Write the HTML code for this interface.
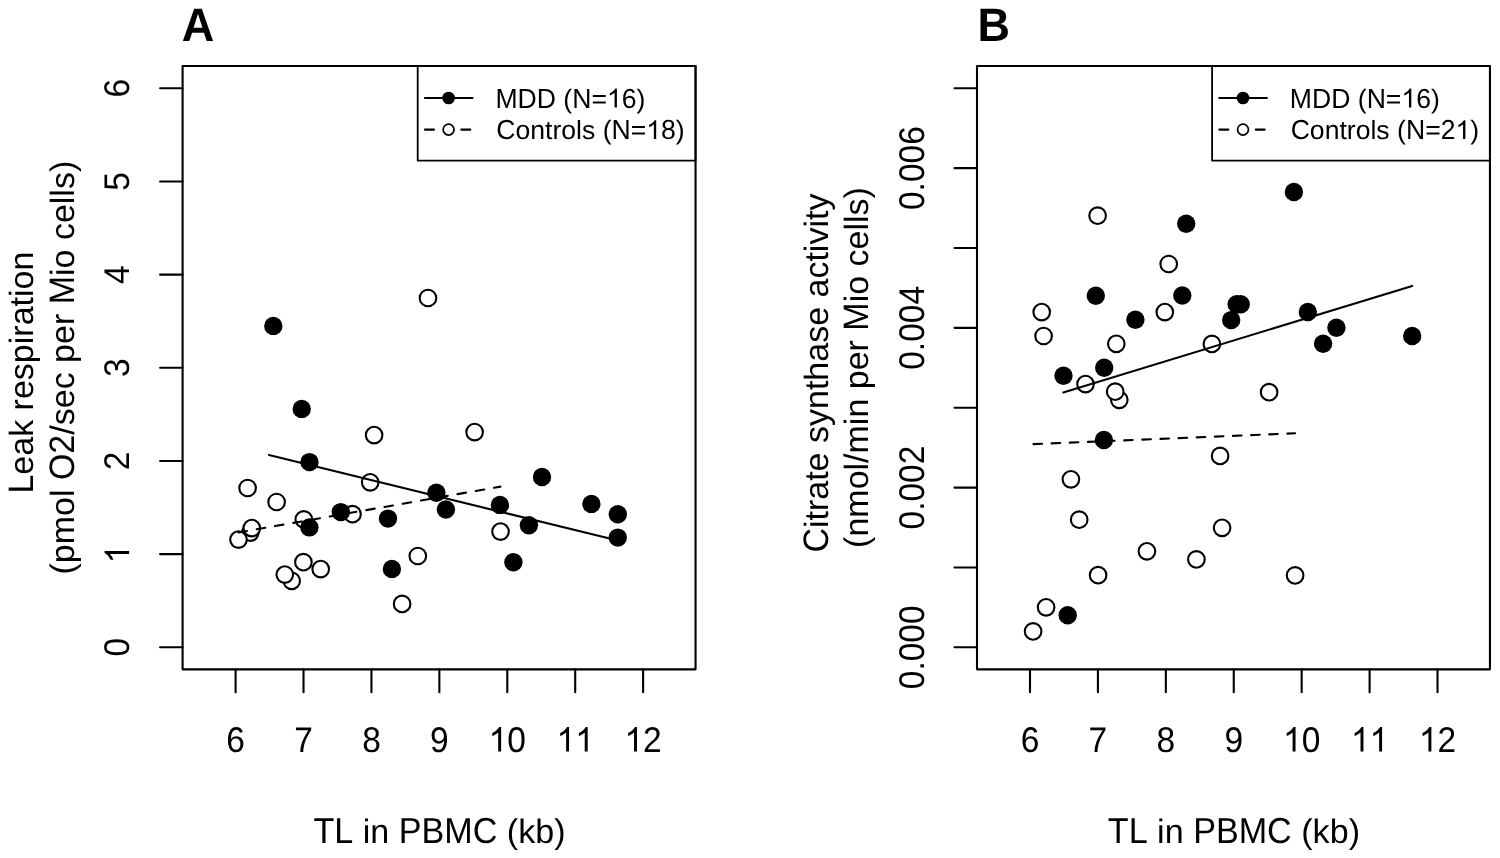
<!DOCTYPE html>
<html><head><meta charset="utf-8"><style>
html,body{margin:0;padding:0;background:#fff;}
svg{display:block;will-change:transform;}
text{font-family:"Liberation Sans",sans-serif;fill:#000;stroke:none;text-rendering:geometricPrecision;font-kerning:none;}
</style></head><body>
<svg width="1500" height="858" viewBox="0 0 1500 858">
<defs><path id="one" d="M763 0L583 0L583 1102Q518 1043 412 983Q306 924 223 894L223 1061Q372 1128 484 1224Q596 1320 643 1409L763 1409Z" fill="#000" stroke="none"/></defs>
<rect width="1500" height="858" fill="#fff"/>
<g stroke="#000" stroke-width="2.1" stroke-linecap="round" stroke-linejoin="round" fill="none">
<rect x="182.6" y="66.05" width="512.9499999999999" height="603.3000000000001" fill="none" stroke="#000" stroke-width="2.1"/>
<line x1="235.60" y1="669.35" x2="235.60" y2="692.2"/>
<text transform="translate(235.60,751.60) scale(0.985,1.049)" x="-9.455" font-size="34.0">6</text>
<line x1="303.52" y1="669.35" x2="303.52" y2="692.2"/>
<text transform="translate(303.52,751.60) scale(0.985,1.049)" x="-9.455" font-size="34.0">7</text>
<line x1="371.44" y1="669.35" x2="371.44" y2="692.2"/>
<text transform="translate(371.44,751.60) scale(0.985,1.049)" x="-9.455" font-size="34.0">8</text>
<line x1="439.36" y1="669.35" x2="439.36" y2="692.2"/>
<text transform="translate(439.36,751.60) scale(0.985,1.049)" x="-9.455" font-size="34.0">9</text>
<line x1="507.28" y1="669.35" x2="507.28" y2="692.2"/>
<use href="#one" transform="translate(507.28,751.60) scale(0.985,1.049) translate(-18.909,0) scale(0.016602,-0.016602)"/>
<text transform="translate(507.28,751.60) scale(0.985,1.049)" x="-18.909" font-size="34.0"> 0</text>
<line x1="575.20" y1="669.35" x2="575.20" y2="692.2"/>
<use href="#one" transform="translate(575.20,751.60) scale(0.985,1.049) translate(-18.909,0) scale(0.016602,-0.016602)"/>
<use href="#one" transform="translate(575.20,751.60) scale(0.985,1.049) translate(0.000,0) scale(0.016602,-0.016602)"/>
<text transform="translate(575.20,751.60) scale(0.985,1.049)" x="-18.909" font-size="34.0">  </text>
<line x1="643.12" y1="669.35" x2="643.12" y2="692.2"/>
<use href="#one" transform="translate(643.12,751.60) scale(0.985,1.049) translate(-18.909,0) scale(0.016602,-0.016602)"/>
<text transform="translate(643.12,751.60) scale(0.985,1.049)" x="-18.909" font-size="34.0"> 2</text>
<line x1="160.1" y1="647.30" x2="182.6" y2="647.30"/>
<text transform="translate(129.10,647.30) rotate(-90) scale(0.985,1.049)" x="-9.455" font-size="34.0">0</text>
<line x1="160.1" y1="554.13" x2="182.6" y2="554.13"/>
<use href="#one" transform="translate(129.10,554.13) rotate(-90) scale(0.985,1.049) translate(-9.455,0) scale(0.016602,-0.016602)"/>
<text transform="translate(129.10,554.13) rotate(-90) scale(0.985,1.049)" x="-9.455" font-size="34.0"> </text>
<line x1="160.1" y1="460.97" x2="182.6" y2="460.97"/>
<text transform="translate(129.10,460.97) rotate(-90) scale(0.985,1.049)" x="-9.455" font-size="34.0">2</text>
<line x1="160.1" y1="367.80" x2="182.6" y2="367.80"/>
<text transform="translate(129.10,367.80) rotate(-90) scale(0.985,1.049)" x="-9.455" font-size="34.0">3</text>
<line x1="160.1" y1="274.63" x2="182.6" y2="274.63"/>
<text transform="translate(129.10,274.63) rotate(-90) scale(0.985,1.049)" x="-9.455" font-size="34.0">4</text>
<line x1="160.1" y1="181.46" x2="182.6" y2="181.46"/>
<text transform="translate(129.10,181.46) rotate(-90) scale(0.985,1.049)" x="-9.455" font-size="34.0">5</text>
<line x1="160.1" y1="88.30" x2="182.6" y2="88.30"/>
<text transform="translate(129.10,88.30) rotate(-90) scale(0.985,1.049)" x="-9.455" font-size="34.0">6</text>
<text transform="translate(439.50,843.10) scale(1.0,1.06)" x="-126.113" font-size="34.13">TL</text>
<text transform="translate(439.50,843.10) scale(1.0,0.99)" x="-76.801" font-size="34.13">in</text>
<text transform="translate(439.50,843.10) scale(1.0,1.06)" x="-40.754" font-size="34.13">PBMC</text>
<text transform="translate(439.50,843.10) scale(1.0,1.0)" x="67.335" font-size="34.13">(</text>
<text transform="translate(439.50,843.10) scale(1.0,0.99)" x="78.701" font-size="34.13">kb</text>
<text transform="translate(439.50,843.10) scale(1.0,1.0)" x="114.747" font-size="34.13">)</text>
<text transform="translate(33.20,372.60) rotate(-90) scale(1.0,1.04)" x="-120.959" font-size="34.0">L</text>
<text transform="translate(33.20,372.60) rotate(-90) scale(1.0,0.99)" x="-102.050" font-size="34.0">eak</text>
<text transform="translate(33.20,372.60) rotate(-90) scale(1.0,0.99)" x="-37.785" font-size="34.0">respiration</text>
<text transform="translate(73.90,367.65) rotate(-90) scale(1.0,1.0)" x="-206.889" font-size="34.0">(</text>
<text transform="translate(73.90,367.65) rotate(-90) scale(1.0,0.99)" x="-195.566" font-size="34.0">pmol</text>
<text transform="translate(73.90,367.65) rotate(-90) scale(1.0,1.04)" x="-112.426" font-size="34.0">O2</text>
<text transform="translate(73.90,367.65) rotate(-90) scale(1.0,1.0)" x="-67.070" font-size="34.0">/</text>
<text transform="translate(73.90,367.65) rotate(-90) scale(1.0,0.99)" x="-57.624" font-size="34.0">sec</text>
<text transform="translate(73.90,367.65) rotate(-90) scale(1.0,0.99)" x="4.731" font-size="34.0">per</text>
<text transform="translate(73.90,367.65) rotate(-90) scale(1.0,1.04)" x="63.318" font-size="34.0">M</text>
<text transform="translate(73.90,367.65) rotate(-90) scale(1.0,0.99)" x="91.641" font-size="34.0">io</text>
<text transform="translate(73.90,367.65) rotate(-90) scale(1.0,0.99)" x="127.550" font-size="34.0">cells</text>
<text transform="translate(73.90,367.65) rotate(-90) scale(1.0,1.0)" x="195.566" font-size="34.0">)</text>
<text transform="translate(181.70,41.00) scale(1.0,1.045)" font-size="45.0" font-weight="bold">A</text>
<rect x="417.7" y="66.05" width="277.84999999999997" height="94.55" fill="none" stroke="#000" stroke-width="1.8"/>
<line x1="424.9" y1="98" x2="472.5" y2="98"/>
<circle cx="448.6" cy="98" r="6.35" fill="#000" stroke="none"/>
<line x1="424.9" y1="129.6" x2="434.0" y2="129.6"/>
<line x1="461.3" y1="129.6" x2="470.3" y2="129.6"/>
<circle cx="448.6" cy="129.6" r="5.45" fill="#fff" stroke-width="1.75"/>
<use href="#one" transform="translate(495.42,107.50) scale(1.0,1.035) translate(111.569,0) scale(0.012988,-0.012988)"/>
<text transform="translate(495.42,107.50) scale(1.0,1.035)" x="0.000" font-size="26.6">MDD</text>
<text transform="translate(495.42,107.50) scale(1.0,1.0)" x="67.968" font-size="26.6">(</text>
<text transform="translate(495.42,107.50) scale(1.0,1.035)" x="76.826" font-size="26.6">N</text>
<text transform="translate(495.42,107.50) scale(1.0,1.0)" x="96.035" font-size="26.6">=</text>
<text transform="translate(495.42,107.50) scale(1.0,1.035)" x="111.569" font-size="26.6"> 6</text>
<text transform="translate(495.42,107.50) scale(1.0,1.0)" x="141.157" font-size="26.6">)</text>
<use href="#one" transform="translate(496.24,139.10) scale(1.0,1.035) translate(150.041,0) scale(0.012988,-0.012988)"/>
<text transform="translate(496.24,139.10) scale(1.0,1.035)" x="0.000" font-size="26.6">C</text>
<text transform="translate(496.24,139.10) scale(1.0,0.99)" x="19.210" font-size="26.6">ontrols</text>
<text transform="translate(496.24,139.10) scale(1.0,1.0)" x="106.439" font-size="26.6">(</text>
<text transform="translate(496.24,139.10) scale(1.0,1.035)" x="115.297" font-size="26.6">N</text>
<text transform="translate(496.24,139.10) scale(1.0,1.0)" x="134.507" font-size="26.6">=</text>
<text transform="translate(496.24,139.10) scale(1.0,1.035)" x="150.041" font-size="26.6"> 8</text>
<text transform="translate(496.24,139.10) scale(1.0,1.0)" x="179.628" font-size="26.6">)</text>
<circle cx="250.3" cy="532.6" r="8.3" fill="#fff" stroke-width="2.1"/>
<circle cx="247.6" cy="488.0" r="8.3" fill="#fff" stroke-width="2.1"/>
<circle cx="276.6" cy="502.0" r="8.3" fill="#fff" stroke-width="2.1"/>
<circle cx="370.2" cy="482.3" r="8.3" fill="#fff" stroke-width="2.1"/>
<circle cx="251.8" cy="528.1" r="8.3" fill="#fff" stroke-width="2.1"/>
<circle cx="238.5" cy="539.6" r="8.3" fill="#fff" stroke-width="2.1"/>
<circle cx="303.8" cy="519.4" r="8.3" fill="#fff" stroke-width="2.1"/>
<circle cx="352.5" cy="514.2" r="8.3" fill="#fff" stroke-width="2.1"/>
<circle cx="303.4" cy="562.2" r="8.3" fill="#fff" stroke-width="2.1"/>
<circle cx="320.7" cy="569.1" r="8.3" fill="#fff" stroke-width="2.1"/>
<circle cx="291.7" cy="580.8" r="8.3" fill="#fff" stroke-width="2.1"/>
<circle cx="284.8" cy="574.6" r="8.3" fill="#fff" stroke-width="2.1"/>
<circle cx="374.1" cy="435.1" r="8.3" fill="#fff" stroke-width="2.1"/>
<circle cx="474.6" cy="432.1" r="8.3" fill="#fff" stroke-width="2.1"/>
<circle cx="500.5" cy="531.6" r="8.3" fill="#fff" stroke-width="2.1"/>
<circle cx="417.8" cy="556.0" r="8.3" fill="#fff" stroke-width="2.1"/>
<circle cx="402.1" cy="603.9" r="8.3" fill="#fff" stroke-width="2.1"/>
<circle cx="428.0" cy="298.0" r="8.3" fill="#fff" stroke-width="2.1"/>
<circle cx="273.3" cy="325.9" r="9.2" fill="#000" stroke="none"/>
<circle cx="301.7" cy="408.9" r="9.2" fill="#000" stroke="none"/>
<circle cx="309.5" cy="462.1" r="9.2" fill="#000" stroke="none"/>
<circle cx="309.4" cy="527.4" r="9.2" fill="#000" stroke="none"/>
<circle cx="340.8" cy="512.1" r="9.2" fill="#000" stroke="none"/>
<circle cx="388.0" cy="518.6" r="9.2" fill="#000" stroke="none"/>
<circle cx="391.9" cy="568.9" r="9.2" fill="#000" stroke="none"/>
<circle cx="436.4" cy="492.8" r="9.2" fill="#000" stroke="none"/>
<circle cx="445.9" cy="509.5" r="9.2" fill="#000" stroke="none"/>
<circle cx="499.9" cy="504.9" r="9.2" fill="#000" stroke="none"/>
<circle cx="528.9" cy="525.3" r="9.2" fill="#000" stroke="none"/>
<circle cx="513.4" cy="562.3" r="9.2" fill="#000" stroke="none"/>
<circle cx="542.0" cy="477.0" r="9.2" fill="#000" stroke="none"/>
<circle cx="591.4" cy="503.9" r="9.2" fill="#000" stroke="none"/>
<circle cx="617.8" cy="514.2" r="9.2" fill="#000" stroke="none"/>
<circle cx="617.8" cy="537.6" r="9.2" fill="#000" stroke="none"/>
<line x1="269.0" y1="454.9" x2="617.8" y2="540.6"/>
<line x1="238.5" y1="532.48" x2="500.5" y2="486.62" stroke-dasharray="8.6 9.93"/>
<rect x="977.0" y="66.05" width="512.9499999999999" height="603.3000000000001" fill="none" stroke="#000" stroke-width="2.1"/>
<line x1="1030.00" y1="669.35" x2="1030.00" y2="692.2"/>
<text transform="translate(1030.00,751.60) scale(0.985,1.049)" x="-9.455" font-size="34.0">6</text>
<line x1="1097.92" y1="669.35" x2="1097.92" y2="692.2"/>
<text transform="translate(1097.92,751.60) scale(0.985,1.049)" x="-9.455" font-size="34.0">7</text>
<line x1="1165.84" y1="669.35" x2="1165.84" y2="692.2"/>
<text transform="translate(1165.84,751.60) scale(0.985,1.049)" x="-9.455" font-size="34.0">8</text>
<line x1="1233.76" y1="669.35" x2="1233.76" y2="692.2"/>
<text transform="translate(1233.76,751.60) scale(0.985,1.049)" x="-9.455" font-size="34.0">9</text>
<line x1="1301.68" y1="669.35" x2="1301.68" y2="692.2"/>
<use href="#one" transform="translate(1301.68,751.60) scale(0.985,1.049) translate(-18.909,0) scale(0.016602,-0.016602)"/>
<text transform="translate(1301.68,751.60) scale(0.985,1.049)" x="-18.909" font-size="34.0"> 0</text>
<line x1="1369.60" y1="669.35" x2="1369.60" y2="692.2"/>
<use href="#one" transform="translate(1369.60,751.60) scale(0.985,1.049) translate(-18.909,0) scale(0.016602,-0.016602)"/>
<use href="#one" transform="translate(1369.60,751.60) scale(0.985,1.049) translate(0.000,0) scale(0.016602,-0.016602)"/>
<text transform="translate(1369.60,751.60) scale(0.985,1.049)" x="-18.909" font-size="34.0">  </text>
<line x1="1437.52" y1="669.35" x2="1437.52" y2="692.2"/>
<use href="#one" transform="translate(1437.52,751.60) scale(0.985,1.049) translate(-18.909,0) scale(0.016602,-0.016602)"/>
<text transform="translate(1437.52,751.60) scale(0.985,1.049)" x="-18.909" font-size="34.0"> 2</text>
<line x1="954.5" y1="647.30" x2="977.0" y2="647.30"/>
<text transform="translate(923.50,647.30) rotate(-90) scale(0.985,1.049)" x="-42.542" font-size="34.0">0</text>
<text transform="translate(923.50,647.30) rotate(-90) scale(0.985,1.0)" x="-23.632" font-size="34.0">.</text>
<text transform="translate(923.50,647.30) rotate(-90) scale(0.985,1.049)" x="-14.186" font-size="34.0">000</text>
<line x1="954.5" y1="567.44" x2="977.0" y2="567.44"/>
<line x1="954.5" y1="487.59" x2="977.0" y2="487.59"/>
<text transform="translate(923.50,487.59) rotate(-90) scale(0.985,1.049)" x="-42.542" font-size="34.0">0</text>
<text transform="translate(923.50,487.59) rotate(-90) scale(0.985,1.0)" x="-23.632" font-size="34.0">.</text>
<text transform="translate(923.50,487.59) rotate(-90) scale(0.985,1.049)" x="-14.186" font-size="34.0">002</text>
<line x1="954.5" y1="407.73" x2="977.0" y2="407.73"/>
<line x1="954.5" y1="327.87" x2="977.0" y2="327.87"/>
<text transform="translate(923.50,327.87) rotate(-90) scale(0.985,1.049)" x="-42.542" font-size="34.0">0</text>
<text transform="translate(923.50,327.87) rotate(-90) scale(0.985,1.0)" x="-23.632" font-size="34.0">.</text>
<text transform="translate(923.50,327.87) rotate(-90) scale(0.985,1.049)" x="-14.186" font-size="34.0">004</text>
<line x1="954.5" y1="248.01" x2="977.0" y2="248.01"/>
<line x1="954.5" y1="168.16" x2="977.0" y2="168.16"/>
<text transform="translate(923.50,168.16) rotate(-90) scale(0.985,1.049)" x="-42.542" font-size="34.0">0</text>
<text transform="translate(923.50,168.16) rotate(-90) scale(0.985,1.0)" x="-23.632" font-size="34.0">.</text>
<text transform="translate(923.50,168.16) rotate(-90) scale(0.985,1.049)" x="-14.186" font-size="34.0">006</text>
<line x1="954.5" y1="88.30" x2="977.0" y2="88.30"/>
<text transform="translate(1233.90,843.10) scale(1.0,1.06)" x="-126.113" font-size="34.13">TL</text>
<text transform="translate(1233.90,843.10) scale(1.0,0.99)" x="-76.801" font-size="34.13">in</text>
<text transform="translate(1233.90,843.10) scale(1.0,1.06)" x="-40.754" font-size="34.13">PBMC</text>
<text transform="translate(1233.90,843.10) scale(1.0,1.0)" x="67.335" font-size="34.13">(</text>
<text transform="translate(1233.90,843.10) scale(1.0,0.99)" x="78.701" font-size="34.13">kb</text>
<text transform="translate(1233.90,843.10) scale(1.0,1.0)" x="114.747" font-size="34.13">)</text>
<text transform="translate(827.60,373.10) rotate(-90) scale(1.0,1.04)" x="-179.513" font-size="34.0">C</text>
<text transform="translate(827.60,373.10) rotate(-90) scale(1.0,0.99)" x="-154.959" font-size="34.0">itrate</text>
<text transform="translate(827.60,373.10) rotate(-90) scale(1.0,0.99)" x="-69.926" font-size="34.0">synthase</text>
<text transform="translate(827.60,373.10) rotate(-90) scale(1.0,0.99)" x="75.604" font-size="34.0">activity</text>
<text transform="translate(868.30,367.50) rotate(-90) scale(1.0,1.0)" x="-180.426" font-size="34.0">(</text>
<text transform="translate(868.30,367.50) rotate(-90) scale(1.0,0.99)" x="-169.104" font-size="34.0">nmol</text>
<text transform="translate(868.30,367.50) rotate(-90) scale(1.0,1.0)" x="-95.409" font-size="34.0">/</text>
<text transform="translate(868.30,367.50) rotate(-90) scale(1.0,0.99)" x="-85.963" font-size="34.0">min</text>
<text transform="translate(868.30,367.50) rotate(-90) scale(1.0,0.99)" x="-21.731" font-size="34.0">per</text>
<text transform="translate(868.30,367.50) rotate(-90) scale(1.0,1.04)" x="36.855" font-size="34.0">M</text>
<text transform="translate(868.30,367.50) rotate(-90) scale(1.0,0.99)" x="65.178" font-size="34.0">io</text>
<text transform="translate(868.30,367.50) rotate(-90) scale(1.0,0.99)" x="101.087" font-size="34.0">cells</text>
<text transform="translate(868.30,367.50) rotate(-90) scale(1.0,1.0)" x="169.104" font-size="34.0">)</text>
<text transform="translate(977.40,41.00) scale(1.0,1.045)" font-size="45.0" font-weight="bold">B</text>
<rect x="1212.1" y="66.05" width="277.84999999999997" height="94.55" fill="none" stroke="#000" stroke-width="1.8"/>
<line x1="1219.3" y1="98" x2="1266.9" y2="98"/>
<circle cx="1243.0" cy="98" r="6.35" fill="#000" stroke="none"/>
<line x1="1219.3" y1="129.6" x2="1228.4" y2="129.6"/>
<line x1="1255.7" y1="129.6" x2="1264.7" y2="129.6"/>
<circle cx="1243.0" cy="129.6" r="5.45" fill="#fff" stroke-width="1.75"/>
<use href="#one" transform="translate(1289.82,107.50) scale(1.0,1.035) translate(111.569,0) scale(0.012988,-0.012988)"/>
<text transform="translate(1289.82,107.50) scale(1.0,1.035)" x="0.000" font-size="26.6">MDD</text>
<text transform="translate(1289.82,107.50) scale(1.0,1.0)" x="67.968" font-size="26.6">(</text>
<text transform="translate(1289.82,107.50) scale(1.0,1.035)" x="76.826" font-size="26.6">N</text>
<text transform="translate(1289.82,107.50) scale(1.0,1.0)" x="96.035" font-size="26.6">=</text>
<text transform="translate(1289.82,107.50) scale(1.0,1.035)" x="111.569" font-size="26.6"> 6</text>
<text transform="translate(1289.82,107.50) scale(1.0,1.0)" x="141.157" font-size="26.6">)</text>
<use href="#one" transform="translate(1290.64,139.10) scale(1.0,1.035) translate(164.834,0) scale(0.012988,-0.012988)"/>
<text transform="translate(1290.64,139.10) scale(1.0,1.035)" x="0.000" font-size="26.6">C</text>
<text transform="translate(1290.64,139.10) scale(1.0,0.99)" x="19.210" font-size="26.6">ontrols</text>
<text transform="translate(1290.64,139.10) scale(1.0,1.0)" x="106.439" font-size="26.6">(</text>
<text transform="translate(1290.64,139.10) scale(1.0,1.035)" x="115.297" font-size="26.6">N</text>
<text transform="translate(1290.64,139.10) scale(1.0,1.0)" x="134.507" font-size="26.6">=</text>
<text transform="translate(1290.64,139.10) scale(1.0,1.035)" x="150.041" font-size="26.6">2 </text>
<text transform="translate(1290.64,139.10) scale(1.0,1.0)" x="179.628" font-size="26.6">)</text>
<circle cx="1097.6" cy="215.7" r="8.3" fill="#fff" stroke-width="2.1"/>
<circle cx="1168.7" cy="264.0" r="8.3" fill="#fff" stroke-width="2.1"/>
<circle cx="1041.7" cy="312.1" r="8.3" fill="#fff" stroke-width="2.1"/>
<circle cx="1043.6" cy="336.0" r="8.3" fill="#fff" stroke-width="2.1"/>
<circle cx="1164.8" cy="312.1" r="8.3" fill="#fff" stroke-width="2.1"/>
<circle cx="1116.3" cy="343.8" r="8.3" fill="#fff" stroke-width="2.1"/>
<circle cx="1085.5" cy="384.1" r="8.3" fill="#fff" stroke-width="2.1"/>
<circle cx="1119.3" cy="399.8" r="8.3" fill="#fff" stroke-width="2.1"/>
<circle cx="1115.2" cy="391.7" r="8.3" fill="#fff" stroke-width="2.1"/>
<circle cx="1211.9" cy="343.9" r="8.3" fill="#fff" stroke-width="2.1"/>
<circle cx="1269.1" cy="392.2" r="8.3" fill="#fff" stroke-width="2.1"/>
<circle cx="1220.1" cy="455.9" r="8.3" fill="#fff" stroke-width="2.1"/>
<circle cx="1070.9" cy="479.3" r="8.3" fill="#fff" stroke-width="2.1"/>
<circle cx="1079.2" cy="519.7" r="8.3" fill="#fff" stroke-width="2.1"/>
<circle cx="1146.9" cy="551.3" r="8.3" fill="#fff" stroke-width="2.1"/>
<circle cx="1098.1" cy="575.2" r="8.3" fill="#fff" stroke-width="2.1"/>
<circle cx="1222.1" cy="527.8" r="8.3" fill="#fff" stroke-width="2.1"/>
<circle cx="1196.4" cy="559.4" r="8.3" fill="#fff" stroke-width="2.1"/>
<circle cx="1295.1" cy="575.4" r="8.3" fill="#fff" stroke-width="2.1"/>
<circle cx="1046.1" cy="607.3" r="8.3" fill="#fff" stroke-width="2.1"/>
<circle cx="1033.1" cy="631.4" r="8.3" fill="#fff" stroke-width="2.1"/>
<circle cx="1095.8" cy="295.7" r="9.2" fill="#000" stroke="none"/>
<circle cx="1135.4" cy="319.8" r="9.2" fill="#000" stroke="none"/>
<circle cx="1186.2" cy="223.8" r="9.2" fill="#000" stroke="none"/>
<circle cx="1293.9" cy="192.0" r="9.2" fill="#000" stroke="none"/>
<circle cx="1182.3" cy="295.5" r="9.2" fill="#000" stroke="none"/>
<circle cx="1236.7" cy="304.2" r="9.2" fill="#000" stroke="none"/>
<circle cx="1240.7" cy="304.2" r="9.2" fill="#000" stroke="none"/>
<circle cx="1231.2" cy="320.1" r="9.2" fill="#000" stroke="none"/>
<circle cx="1063.5" cy="375.7" r="9.2" fill="#000" stroke="none"/>
<circle cx="1104.2" cy="367.7" r="9.2" fill="#000" stroke="none"/>
<circle cx="1103.9" cy="440.0" r="9.2" fill="#000" stroke="none"/>
<circle cx="1067.7" cy="615.3" r="9.2" fill="#000" stroke="none"/>
<circle cx="1307.8" cy="312.0" r="9.2" fill="#000" stroke="none"/>
<circle cx="1336.4" cy="327.8" r="9.2" fill="#000" stroke="none"/>
<circle cx="1323.1" cy="343.7" r="9.2" fill="#000" stroke="none"/>
<circle cx="1412.2" cy="336.0" r="9.2" fill="#000" stroke="none"/>
<line x1="1063.3" y1="392.5" x2="1412.2" y2="285.9"/>
<line x1="1033.5" y1="444.1" x2="1295.1" y2="433.3" stroke-dasharray="8.6 9.55"/>
</g>
</svg>
</body></html>
